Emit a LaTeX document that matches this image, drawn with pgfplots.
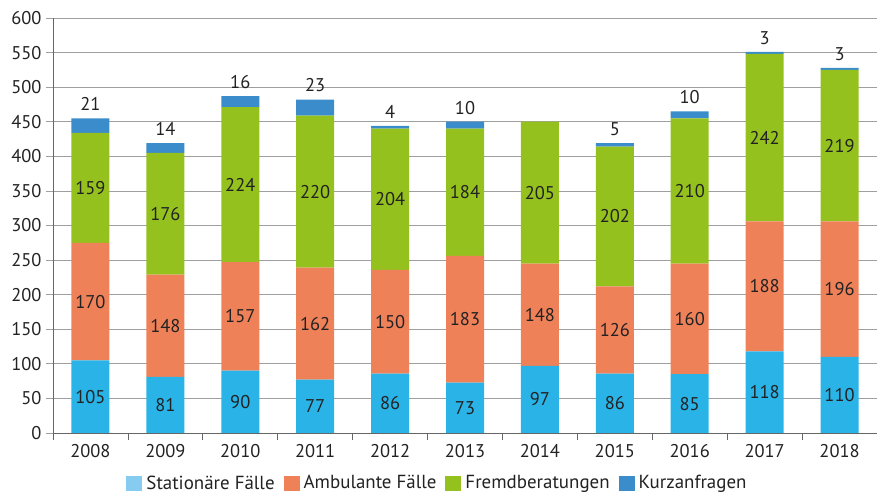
\documentclass[border=0pt]{standalone}
\usepackage{fontspec}
\setmainfont{PT Sans}
\usepackage{pgfplots}
\pgfplotsset{compat=1.18}
\definecolor{cstat}{HTML}{29B3E7}
\definecolor{cstatleg}{HTML}{86CCF1}
\definecolor{camb}{HTML}{EF8159}
\definecolor{cfremd}{HTML}{95C11F}
\definecolor{ckurz}{HTML}{3A8CCB}
\definecolor{ctxt}{HTML}{222222}
\newcommand\fnt{\fontsize{18.5}{20}\selectfont}
\pgfplotsset{
  calcoff/.code={%
    \pgfkeys{/pgf/fpu=true,/pgf/fpu/output format=fixed}%
    \pgfmathsetmacro\halfseg{0.5*\pgfplotspointmeta*0.691667}%
    \pgfkeys{/pgf/fpu=false}%
  },
  midlabel/.style={
    nodes near coords,
    nodes near coords style={anchor=center,font=\fnt,text=ctxt},
  },
}
\begin{document}
\begin{tikzpicture}
\path[use as bounding box] (0,0) rectangle (877bp,494bp);
\begin{axis}[
  at={(53bp,61bp)}, anchor=south west,
  scale only axis, width=824bp, height=415bp,
  ybar stacked, bar width=38bp,
  xmin=-0.5, xmax=10.5, ymin=0, ymax=600,
  ytick={0,50,...,600},
  xtick={0,...,10},
  xticklabels={2008,2009,2010,2011,2012,2013,2014,2015,2016,2017,2018},
  minor xtick={-0.5,0.5,...,10.5},
  axis x line*=bottom, axis y line*=left,
  axis line style={draw=gray!80!black, line width=0.8bp},
  x axis line style={-}, y axis line style={-},
  ymajorgrids, grid style={draw=gray!75, line width=0.8bp},
  tick align=outside,
  major tick length=7bp, minor tick length=7bp,
  major x tick style={draw=none},
  minor x tick style={draw=gray!80!black, line width=0.8bp},
  ytick style={draw=gray!75, line width=0.8bp},
  /pgf/number format/assume math mode=true,
  tick label style={font=\fnt, text=ctxt},
  yticklabel style={xshift=-1bp},
  xticklabel style={yshift=-1bp},
  legend columns=4,
  legend style={at={(0.4666,-0.1205)}, anchor=center, draw=none, fill=none,
    font=\fontsize{19}{20}\selectfont, text=ctxt,
    column sep=2bp, inner sep=0pt,
    /tikz/every even column/.append style={column sep=7bp}},
  legend image code/.code={\fill[#1] (0bp,-7.5bp) rectangle (16bp,7.5bp);},
]
\addplot+[draw=none, fill=cstat, midlabel,
  legend image code/.code={\fill[cstatleg] (0bp,-7.5bp) rectangle (16bp,7.5bp);}]
  coordinates {(0,105) (1,81) (2,90) (3,77) (4,86) (5,73) (6,97) (7,86) (8,85) (9,118) (10,110)};
\addplot+[draw=none, fill=camb, midlabel]
  coordinates {(0,170) (1,148) (2,157) (3,162) (4,150) (5,183) (6,148) (7,126) (8,160) (9,188) (10,196)};
\addplot+[draw=none, fill=cfremd, midlabel]
  coordinates {(0,159) (1,176) (2,224) (3,220) (4,204) (5,184) (6,205) (7,202) (8,210) (9,242) (10,219)};
\addplot+[draw=none, fill=ckurz, point meta=explicit symbolic,
  nodes near coords={\ifnum\pgfplotspointmeta=0 \else\pgfplotspointmeta\fi},
  nodes near coords style={anchor=south, /pgfplots/calcoff, yshift=\halfseg bp + 4bp, font=\fnt, text=ctxt}]
  coordinates {(0,21) [21] (1,14) [14] (2,16) [16] (3,23) [23] (4,4) [4] (5,10) [10] (6,0) [0] (7,5) [5] (8,10) [10] (9,3) [3] (10,3) [3]};
\legend{Stationäre Fälle, Ambulante Fälle, Fremdberatungen, Kurzanfragen}
\end{axis}
\end{tikzpicture}
\end{document}
